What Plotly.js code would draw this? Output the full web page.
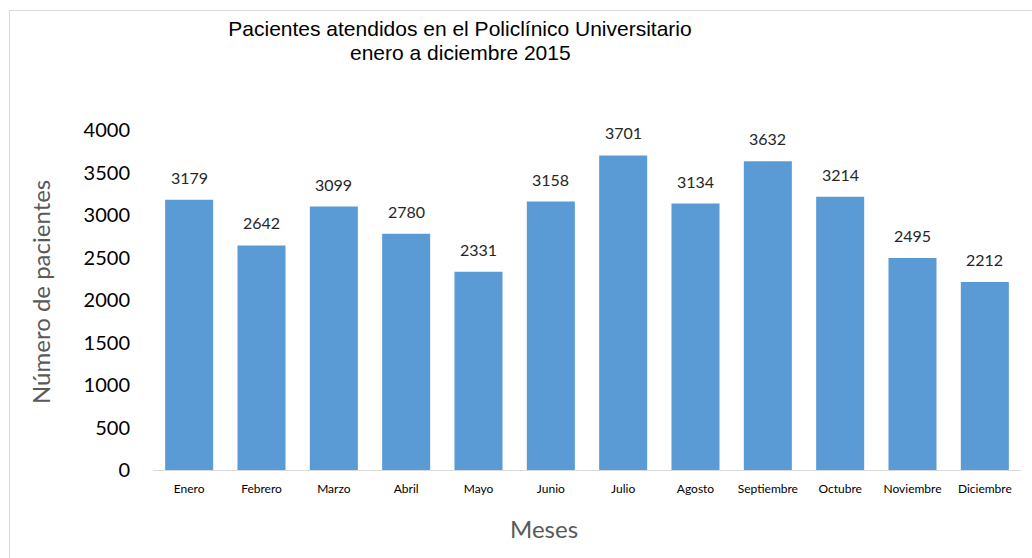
<!DOCTYPE html>
<html>
<head>
<meta charset="utf-8">
<script src="https://cdn.plot.ly/plotly-3.0.1.min.js"></script>
<style>
  html, body { margin: 0; padding: 0; background: #ffffff; }
  #frame { position: absolute; left: 9px; top: 10px; width: 1030px; height: 560px; border: 1px solid #d9d9d9; box-sizing: border-box; }
  #chart { position: absolute; left: 0; top: 0; width: 1032px; height: 558px; }
</style>
</head>
<body>
<div id="frame"></div>
<div id="chart"></div>
<script>
const months = ["Enero", "Febrero", "Marzo", "Abril", "Mayo", "Junio", "Julio", "Agosto", "Septiembre", "Octubre", "Noviembre", "Diciembre"];
const patients = [3179, 2642, 3099, 2780, 2331, 3158, 3701, 3134, 3632, 3214, 2495, 2212];
const yTicks = [0, 500, 1000, 1500, 2000, 2500, 3000, 3500, 4000];
const titleLines = ["Pacientes atendidos en el Policlínico Universitario", "enero a diciembre 2015"];

const trace = {
  type: "bar",
  x: months,
  y: patients,
  marker: { color: "#5B9BD5" },
  hoverinfo: "x+y"
};

const labelAnnotations = months.map((m, i) => ({
  x: m, y: patients[i], xref: "x", yref: "y",
  text: String(patients[i]),
  showarrow: false, yanchor: "bottom", yshift: 11,
  font: { family: "Lato, 'Open Sans', sans-serif", size: 16, color: "#262626" }
}));

// plot area in pixels: x 153..1021, y 130..470
const px2x = (px) => (px - 153) / 868;
const px2y = (py) => (470 - py) / 340;
const titleFont = { family: "'Liberation Sans', Arial, sans-serif", size: 21, color: "#000000" };

const layout = {
  width: 1032, height: 558,
  paper_bgcolor: "rgba(0,0,0,0)",
  plot_bgcolor: "rgba(0,0,0,0)",
  margin: { l: 153, r: 11, t: 130, b: 88 },
  bargap: 0.336,
  showlegend: false,
  title: {
    text: titleLines[0],
    x: 460 / 1032, xref: "container", xanchor: "center",
    y: 1 - 29 / 558, yref: "container", yanchor: "middle",
    font: titleFont
  },
  xaxis: {
    type: "category",
    showgrid: false, zeroline: false,
    showline: true, linecolor: "#d9d9d9", linewidth: 1,
    ticks: "", ticklabelstandoff: 8,
    tickfont: { family: "Lato, 'Open Sans', sans-serif", size: 12, color: "#000000" }
  },
  yaxis: {
    range: [0, 4000],
    tickvals: yTicks,
    ticktext: yTicks.map(String),
    showgrid: false, zeroline: false, showline: false,
    ticks: "", ticklabelstandoff: 22,
    tickfont: { family: "Lato, 'Open Sans', sans-serif", size: 20, color: "#000000" }
  },
  annotations: labelAnnotations.concat([
    {
      text: titleLines[1], xref: "paper", yref: "paper",
      x: px2x(460), y: px2y(53), xanchor: "center", yanchor: "middle",
      showarrow: false, font: titleFont
    },
    {
      text: "Número de pacientes", xref: "paper", yref: "paper",
      x: px2x(40), y: px2y(292), xanchor: "center", yanchor: "middle",
      textangle: -90, showarrow: false,
      font: { family: "Lato, 'Open Sans', sans-serif", size: 24, color: "#595959" }
    },
    {
      text: "Meses", xref: "paper", yref: "paper",
      x: px2x(544), y: px2y(528), xanchor: "center", yanchor: "middle",
      showarrow: false,
      font: { family: "Lato, 'Open Sans', sans-serif", size: 24, color: "#595959" }
    }
  ])
};

Plotly.newPlot("chart", [trace], layout, { displayModeBar: false, staticPlot: true });
</script>
</body>
</html>
